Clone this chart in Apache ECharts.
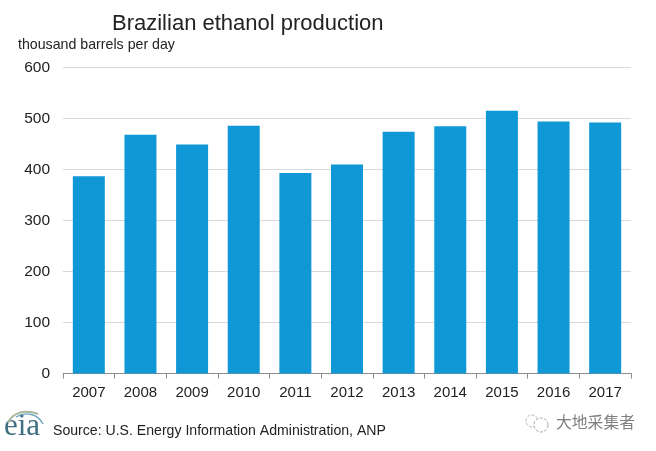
<!DOCTYPE html>
<html>
<head>
<meta charset="utf-8">
<style>
  html, body {margin: 0; padding: 0; background: #fff;}
  #chart {width: 656px; height: 451px;}
</style>
<script src="https://cdn.jsdelivr.net/npm/echarts@6/dist/echarts.min.js"></script>
</head>
<body>
<div id="chart"></div>
<script>
// 数据
const years = ['2007', '2008', '2009', '2010', '2011', '2012', '2013', '2014', '2015', '2016', '2017'];
const production = [387, 468, 449, 486, 393, 410, 474, 485, 515, 494, 492];
const yTicks = {min: 0, max: 600, interval: 100};

const titleText = 'Brazilian ethanol production';
const unitText = 'thousand barrels per day';
const sourceText = 'Source: U.S. Energy Information Administration, ANP';
const watermarkText = '大地采集者';

const fontName = '"Liberation Sans", Arial, sans-serif';
const textColor = '#222';

let myChart = echarts.init(document.getElementById('chart'), null, {renderer: 'canvas'});

let option = {
  animation: false,
  backgroundColor: '#fff',
  textStyle: {fontFamily: fontName},
  grid: {left: 63, right: 25, top: 67.5, bottom: 77.5},
  xAxis: {
    type: 'category',
    data: years,
    boundaryGap: true,
    axisLine: {show: true, lineStyle: {color: '#8c8c8c', width: 1}},
    axisTick: {show: true, length: 5, lineStyle: {color: '#8c8c8c', width: 1}},
    axisLabel: {color: textColor, fontSize: 15, margin: 12},
    splitLine: {show: false},
  },
  yAxis: {
    type: 'value',
    min: yTicks.min,
    max: yTicks.max,
    interval: yTicks.interval,
    axisLine: {show: false},
    axisTick: {show: false},
    axisLabel: {color: textColor, fontSize: 15.5, margin: 13},
    splitLine: {show: true, lineStyle: {color: '#d9d9d9', width: 1}},
  },
  series: [{
    type: 'bar',
    data: production,
    barWidth: 32,
    itemStyle: {color: '#0f97d6'},
  }],
  graphic: [
    {type: 'text', left: 112, top: 13, style: {text: titleText, fill: textColor, font: '22px ' + fontName}},
    {type: 'text', left: 18, top: 38, style: {text: unitText, fill: textColor, font: '14.2px ' + fontName}},
    {type: 'text', left: 53, top: 424, style: {text: sourceText, fill: textColor, font: '14.1px ' + fontName}},
    // eia 标志
    {type: 'text', left: 4, top: 411, style: {text: 'eia', fill: '#3f6f80', font: '31px "Liberation Serif", serif'}},
    {type: 'bezierCurve', shape: {x1: 8, y1: 423, cpx1: 12, cpy1: 413, cpx2: 24, cpy2: 409, x2: 38, y2: 414}, style: {fill: 'none', stroke: '#a9b59d', lineWidth: 2}},
    {type: 'bezierCurve', shape: {x1: 16, y1: 417, cpx1: 26, cpy1: 411, cpx2: 38, cpy2: 414, x2: 43, y2: 424}, style: {fill: 'none', stroke: '#6aa5bd', lineWidth: 1.4}},
    // 水印
    {type: 'text', left: 556, top: 414, style: {text: watermarkText, fill: '#808080', font: '15.8px "Noto Sans CJK SC", sans-serif'}},
    {type: 'circle', shape: {cx: 532, cy: 421, r: 6}, style: {fill: '#fff', stroke: '#b5b5b5', lineWidth: 1, lineDash: [3, 1.5]}},
    {type: 'circle', shape: {cx: 541, cy: 425, r: 7}, style: {fill: '#fff', stroke: '#a8a8a8', lineWidth: 1, lineDash: [3, 1.5]}},
  ],
};

option && myChart.setOption(option);
</script>
</body>
</html>
